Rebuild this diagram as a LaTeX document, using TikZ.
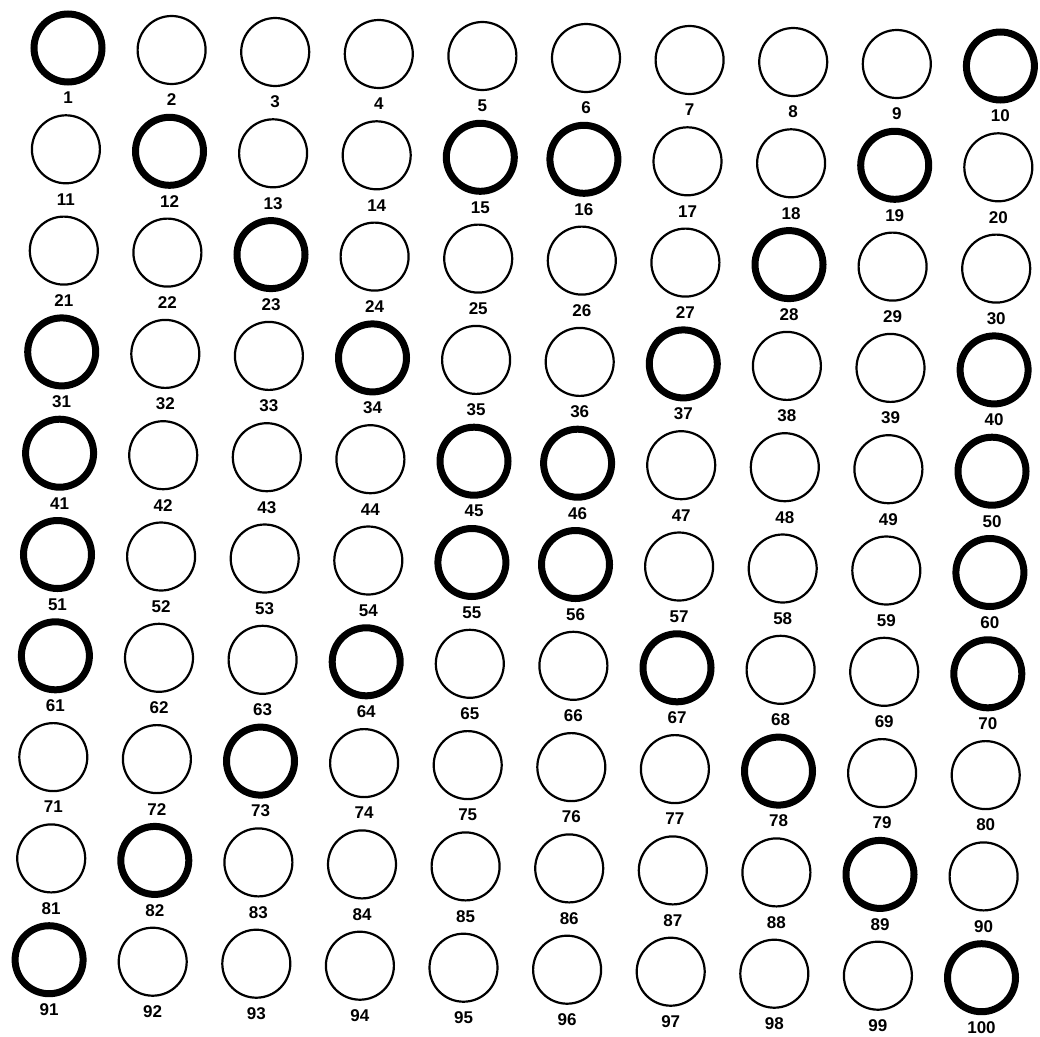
\documentclass[tikz,border=0pt]{standalone}
\usepackage{fontspec}
\setmainfont{Liberation Sans}
\begin{document}
\begin{tikzpicture}[x=1pt,y=-1pt,
  ring/.style={circle,draw=black,minimum size=68pt,inner sep=0pt,outer sep=0pt},
  thinring/.style={ring,line width=2.2pt},
  boldring/.style={ring,line width=7pt},
  num/.style={font=\bfseries\fontsize{17}{17}\selectfont,inner sep=0pt}]
\useasboundingbox (0,0) rectangle (1040,1036);
\foreach \b in {1,10,12,15,16,19,23,28,31,34,37,40,41,45,46,50,51,55,56,60,61,64,67,70,73,78,82,89,91,100}
  {\expandafter\xdef\csname isbold\b\endcsname{1}}
\foreach \r in {0,...,9}{
  \foreach \c in {0,...,9}{
    \pgfmathtruncatemacro{\n}{10*\r+\c+1}
    \pgfmathsetmacro{\px}{68+103.6*\c-2.1*\r}
    \pgfmathsetmacro{\py}{48+101.3*\r+2.0*\c}
    \pgfmathsetmacro{\ly}{\py+50}
    \ifcsname isbold\n\endcsname\def\sty{boldring}\else\def\sty{thinring}\fi
    \node[\sty] (c\n) at (\px,\py) {};
    \node[num] (l\n) at (\px,\ly) {\n};
  }
}
\end{tikzpicture}
\end{document}
